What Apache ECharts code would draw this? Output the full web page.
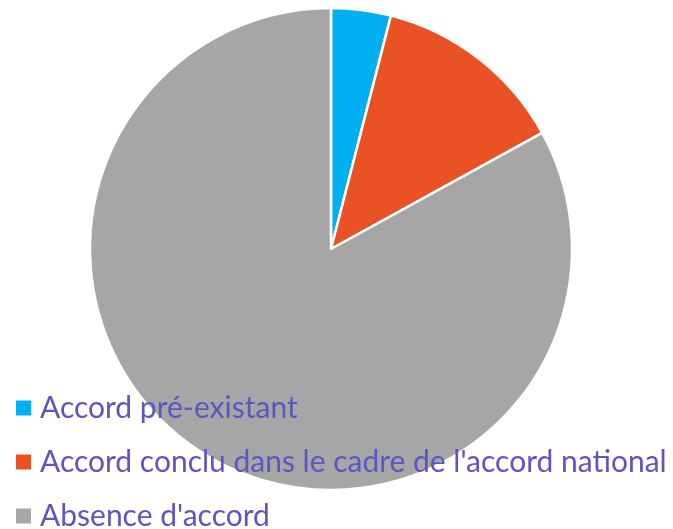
<!DOCTYPE html>
<html>
<head>
<meta charset="utf-8">
<script src="https://cdn.jsdelivr.net/npm/echarts@6/dist/echarts.min.js"></script>
<style>
  html, body { margin: 0; padding: 0; background: #ffffff; }
  #chart { width: 673px; height: 529px; }
</style>
</head>
<body>
<div id="chart"></div>
<script>
// Répartition des accords (parts en %)
const categories = [
  "Accord pré-existant",
  "Accord conclu dans le cadre de l'accord national",
  "Absence d'accord"
];
const values = [4, 13, 83];
const colors = ["#00b0f0", "#e85224", "#a6a6a6"];

const chart = echarts.init(document.getElementById('chart'), null, { renderer: 'canvas' });

chart.setOption({
  animation: false,
  backgroundColor: '#ffffff',
  color: colors,
  legend: {
    orient: 'vertical',
    left: 14,
    top: 393,
    height: 170,
    padding: 0,
    icon: 'rect',
    itemWidth: 17,
    itemHeight: 17,
    itemGap: 24,
    selectedMode: false,
    data: categories,
    textStyle: {
      fontFamily: 'Lato',
      fontSize: 30,
      color: '#5b57c2',
      padding: [0, 0, 0, 3]
    }
  },
  series: [{
    type: 'pie',
    center: [331, 249],
    radius: 241,
    startAngle: 90,
    clockwise: true,
    label: { show: false },
    labelLine: { show: false },
    emphasis: { disabled: true },
    itemStyle: { borderColor: '#ffffff', borderWidth: 2.5 },
    data: categories.map((name, i) => ({ name: name, value: values[i] }))
  }]
});
</script>
</body>
</html>
